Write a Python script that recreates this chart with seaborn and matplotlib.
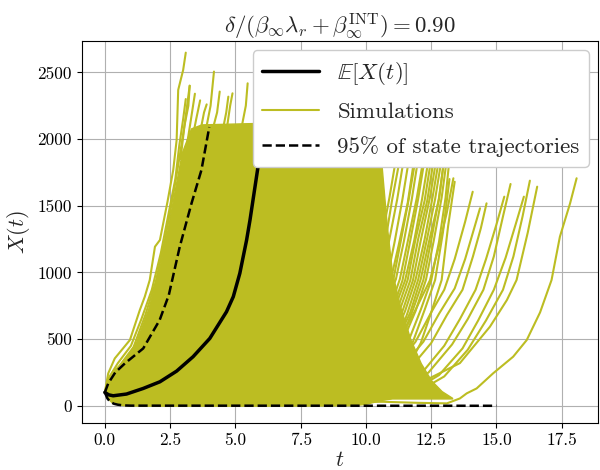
import numpy as np
import pandas as pd
import matplotlib
matplotlib.use("Agg")
import matplotlib.pyplot as plt
from matplotlib.lines import Line2D
import seaborn as sns

OLIVE = "#bcbd22"

# Expected state E[X(t)]
mean_t = [0, 0.15, 0.32, 0.83, 1.47, 2.11, 2.75, 3.38, 4.02, 4.66, 4.92, 5.17, 5.43, 5.56, 5.86, 6.1]
mean_x = [100, 82, 75, 88, 130, 180, 260, 368, 505, 705, 818, 993, 1243, 1393, 1783, 2100]

# 95% band of state trajectories
upper_t = [0, 0.13, 0.4, 0.77, 1.47, 2.1, 2.45, 2.87, 3.32, 3.7, 4.0]
upper_x = [100, 168, 250, 318, 430, 643, 830, 1193, 1518, 1768, 2090]
lower_t = [0, 0.1, 0.2, 0.35, 0.5, 0.7, 1.0, 15.0]
lower_x = [100, 55, 30, 15, 8, 3, 1, 0]

# Dense bundle of simulated paths (outline of the overlapping mass)
bulk_t = [0, 0.1, 0.25, 0.4, 0.7, 0.9, 1.2, 1.65, 2.05, 2.4, 2.7, 2.95, 3.3, 3.7,
          5.7, 8.0, 9.5, 10.0, 10.3, 10.6, 10.8, 11.0, 11.3, 11.7, 12.1, 12.5, 12.9, 13.3]
bulk_hi = [100, 190, 230, 280, 330, 390, 480, 720, 1000, 1320, 1640, 1900, 2080, 2110,
           2120, 2120, 2120, 2120, 2120, 1800, 1350, 1000, 750, 500, 320, 190, 110, 60]
bulk_lo = [100, 60, 28, 15, 5, 3, 2, 1, 1, 1, 1, 1, 1, 1,
           1, 2, 4, 15, 30, 45, 50, 55, 55, 55, 55, 55, 55, 55]

# Individual simulated paths that stand out from the bundle
sim_t = [
    [0, 0.13, 0.38, 0.96, 1.34, 1.53, 1.72, 1.92, 2.11, 2.4, 2.62, 2.75, 2.81, 3.0, 3.1],
    [0, 0.15, 0.5, 1.0, 1.4, 1.8, 2.15, 2.45, 2.7, 2.85, 3.0, 3.1],
    [0, 0.2, 0.6, 1.1, 1.55, 1.95, 2.3, 2.6, 2.85, 3.05, 3.25],
    [2.9, 3.05, 3.2, 3.25],
    [3.1, 3.3, 3.45],
    [3.3, 3.5, 3.65],
    [3.6, 3.8, 3.9],
    [3.8, 4.05, 4.18],
    [4.1, 4.3, 4.4],
    [4.5, 4.65, 4.73],
    [4.65, 4.8, 4.89],
    [5.2, 5.4, 5.47],
    [7.2, 8.0, 8.8, 9.4, 9.9, 10.3, 10.6, 10.9, 11.15],
    [7.5, 8.3, 9.1, 9.6, 10.05, 10.45, 10.75, 11.0, 11.3],
    [7.6, 8.4, 9.2, 9.7, 10.2, 10.6, 10.9, 11.2, 11.45],
    [7.9, 8.7, 9.4, 9.9, 10.4, 10.8, 11.1, 11.4, 11.65],
    [8.0, 8.8, 9.5, 10.0, 10.5, 10.95, 11.25, 11.6, 11.85],
    [8.1, 8.9, 9.6, 10.2, 10.65, 11.05, 11.35, 11.65, 11.9],
    [8.1, 9.0, 9.7, 10.2, 10.7, 11.15, 11.45, 11.75, 12.0],
    [8.2, 9.1, 9.9, 10.4, 10.9, 11.3, 11.6, 11.95, 12.2],
    [8.4, 9.3, 10.0, 10.6, 11.0, 11.4, 11.7, 12.0, 12.25],
    [8.5, 9.4, 10.1, 10.6, 11.1, 11.5, 11.85, 12.15, 12.4],
    [8.6, 9.5, 10.2, 10.8, 11.2, 11.6, 11.9, 12.25, 12.5],
    [8.8, 9.6, 10.3, 10.8, 11.3, 11.7, 12.0, 12.35, 12.6],
    [8.8, 9.7, 10.4, 11.0, 11.4, 11.8, 12.1, 12.45, 12.7],
    [8.9, 9.8, 10.5, 11.0, 11.5, 11.9, 12.25, 12.55, 12.8],
    [9.0, 9.9, 10.6, 11.2, 11.6, 12.0, 12.35, 12.65, 12.9],
    [9.0, 10.0, 10.7, 11.2, 11.7, 12.1, 12.45, 12.8, 13.0],
    [9.1, 10.1, 10.8, 11.3, 11.8, 12.2, 12.5, 12.8, 13.0],
    [9.2, 10.2, 10.9, 11.4, 11.9, 12.3, 12.6, 12.9, 13.1],
    [8.5, 9.6, 10.5, 11.3, 11.9, 12.45, 12.8, 13.1, 13.35],
    [9.5, 10.4, 11.1, 11.6, 12.1, 12.5, 12.8, 13.05, 13.2],
    [9.4, 10.5, 11.3, 11.8, 12.25, 12.65, 12.95, 13.2],
    [9.6, 10.7, 11.5, 12.1, 12.5, 12.9, 13.15, 13.4],
    [9.0, 10.0, 11.0, 11.9, 12.5, 13.0, 13.4, 13.8, 14.09],
    [9.3, 10.4, 11.3, 12.2, 12.8, 13.4, 13.8, 14.1, 14.37],
    [9.5, 10.6, 11.6, 12.5, 13.1, 13.7, 14.1, 14.4, 14.62],
    [10.0, 11.2, 12.2, 13.0, 13.6, 14.2, 14.6, 15.0, 15.3],
    [10.2, 11.4, 12.4, 13.3, 13.9, 14.5, 14.9, 15.25, 15.54],
    [10.4, 11.7, 12.8, 13.7, 14.3, 14.9, 15.35, 15.75, 16.05],
    [10.5, 11.9, 13.0, 13.9, 14.6, 15.25, 15.65, 16.0, 16.28],
    [10.0, 10.65, 12.3, 13.6, 14.75, 15.4, 15.77, 16.2, 16.56],
    [8.0, 10.65, 12.0, 13.1, 13.6, 13.86, 14.24, 14.87, 15.64, 16.16, 16.67, 17.11, 17.43, 17.82, 18.07],
]
sim_x = [
    [100, 243, 355, 493, 718, 818, 943, 1193, 1243, 1530, 1768, 1993, 2368, 2518, 2648],
    [100, 210, 320, 450, 650, 870, 1150, 1450, 1700, 1950, 2150, 2300],
    [100, 200, 310, 440, 680, 930, 1240, 1560, 1850, 2100, 2400],
    [1850, 2100, 2250, 2400],
    [1900, 2150, 2340],
    [1950, 2150, 2290],
    [2000, 2200, 2260],
    [2000, 2250, 2506],
    [2050, 2200, 2356],
    [2050, 2200, 2318],
    [2050, 2250, 2343],
    [2050, 2250, 2418],
    [60, 150, 330, 520, 730, 943, 1250, 1560, 1850],
    [55, 145, 320, 510, 720, 943, 1240, 1540, 1850],
    [60, 150, 330, 520, 720, 943, 1250, 1550, 1850],
    [55, 140, 310, 500, 710, 940, 1230, 1550, 1850],
    [50, 140, 320, 500, 730, 943, 1200, 1520, 1850],
    [50, 135, 300, 510, 730, 945, 1250, 1560, 1850],
    [45, 135, 300, 500, 720, 950, 1230, 1540, 1850],
    [40, 130, 300, 520, 720, 950, 1230, 1560, 1850],
    [50, 130, 290, 490, 710, 940, 1240, 1550, 1850],
    [45, 125, 290, 500, 730, 940, 1240, 1550, 1850],
    [45, 125, 285, 490, 720, 945, 1250, 1540, 1850],
    [45, 120, 280, 480, 720, 940, 1250, 1540, 1850],
    [40, 120, 280, 490, 710, 940, 1240, 1560, 1850],
    [40, 115, 270, 480, 710, 945, 1250, 1560, 1850],
    [40, 115, 265, 480, 700, 945, 1260, 1550, 1850],
    [40, 110, 260, 490, 700, 950, 1260, 1550, 1850],
    [40, 110, 255, 470, 720, 943, 1240, 1560, 1850],
    [38, 105, 255, 480, 710, 945, 1240, 1560, 1850],
    [50, 130, 280, 500, 720, 940, 1200, 1450, 1706],
    [35, 100, 250, 470, 720, 940, 1230, 1560, 1850],
    [40, 110, 260, 480, 720, 943, 1300, 1700],
    [40, 110, 250, 470, 700, 943, 1350, 1680],
    [60, 130, 260, 480, 700, 870, 1100, 1380, 1605],
    [55, 140, 270, 480, 690, 880, 1100, 1300, 1481],
    [50, 120, 260, 470, 680, 870, 1120, 1330, 1518],
    [45, 120, 260, 450, 650, 870, 1100, 1360, 1568],
    [45, 110, 250, 460, 650, 870, 1120, 1420, 1663],
    [40, 100, 230, 430, 640, 870, 1110, 1370, 1568],
    [40, 95, 220, 420, 640, 870, 1120, 1420, 1688],
    [50, 80, 193, 320, 593, 793, 943, 1300, 1643],
    [25, 30, 22, 18, 55, 93, 130, 243, 368, 493, 700, 943, 1268, 1518, 1706],
]

x_ticks = [0.0, 2.5, 5.0, 7.5, 10.0, 12.5, 15.0, 17.5]
y_ticks = [0, 500, 1000, 1500, 2000, 2500]

sns.set_style("ticks")
plt.rcParams["font.family"] = "serif"
plt.rcParams["font.serif"] = ["cmr10", "DejaVu Serif"]
plt.rcParams["mathtext.fontset"] = "cm"
plt.rcParams["axes.formatter.use_mathtext"] = True
plt.rcParams["axes.unicode_minus"] = False

fig = plt.figure(figsize=(6.0, 4.7), dpi=100)
ax = fig.add_axes([0.136, 0.1006, 0.8607, 0.8115])

sims = pd.concat(
    [pd.DataFrame({"t": tt, "X": xx, "run": i}) for i, (tt, xx) in enumerate(zip(sim_t, sim_x))],
    ignore_index=True,
)

ax.fill_between(bulk_t, bulk_lo, bulk_hi, color=OLIVE, lw=1.0, edgecolor=OLIVE, zorder=2)
sns.lineplot(data=sims, x="t", y="X", units="run", estimator=None, sort=False,
             color=OLIVE, lw=1.5, ax=ax, zorder=2, legend=False)
sns.lineplot(x=mean_t, y=mean_x, color="black", lw=2.5, ax=ax, zorder=4, sort=False)
sns.lineplot(x=upper_t, y=upper_x, color="black", lw=1.8, ls="--", ax=ax, zorder=4, sort=False)
sns.lineplot(x=lower_t, y=lower_x, color="black", lw=1.8, ls="--", ax=ax, zorder=4, sort=False)

ax.set_xlim(-0.89, 18.89)
ax.set_ylim(-127, 2733)
ax.set_xticks(x_ticks)
ax.set_yticks(y_ticks)
ax.set_xticklabels([f"{v:.1f}" for v in x_ticks])
ax.set_yticklabels([str(v) for v in y_ticks])
ax.tick_params(labelsize=12.5, direction="out", length=3.5, width=0.8, colors="black")
ax.grid(True, color="#b0b0b0", lw=0.8)
ax.set_axisbelow(True)
for s in ax.spines.values():
    s.set_color("black")
    s.set_linewidth(0.8)

ax.set_xlabel(r"$t$", fontsize=16, labelpad=2)
ax.set_ylabel(r"$X(t)$", fontsize=16, labelpad=4)
ax.set_title(r"$\delta/(\beta_\infty\lambda_r+\beta_\infty^{\mathrm{INT}})=0.90$", fontsize=16.5, pad=5)

handles = [
    Line2D([], [], color="black", lw=2.5),
    Line2D([], [], color=OLIVE, lw=1.5),
    Line2D([], [], color="black", lw=1.8, ls="--"),
]
labels = [r"$\mathbb{E}[X(t)]$", "Simulations", "95% of state trajectories"]
leg = ax.legend(handles, labels, loc="upper right", fontsize=16.5, framealpha=1.0,
                edgecolor="0.8", fancybox=True, handlelength=2.5, labelspacing=0.65,
                borderaxespad=0.4)
leg.set_zorder(10)

fig.savefig("out.png", dpi=100)
